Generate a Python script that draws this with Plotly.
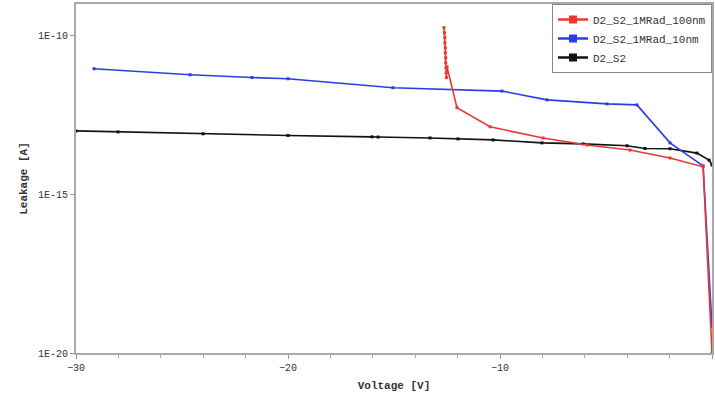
import plotly.graph_objects as go

# D2_S2 (black)
v_ref = [-30.0, -28.02, -24.01, -20.0, -16.04, -15.75, -13.3, -11.98, -10.33, -8.02, -6.08, -4.01, -3.16, -1.98, -0.71, -0.14, 0.0]
i_ref = [1.0e-13, 9.3e-14, 8.1e-14, 7.2e-14, 6.5e-14, 6.4e-14, 6.0e-14, 5.6e-14, 5.2e-14, 4.2e-14, 3.9e-14, 3.4e-14, 2.8e-14, 2.75e-14, 2.0e-14, 1.2e-14, 8.5e-15]

# D2_S2_1MRad_10nm (blue)
v_10 = [-29.15, -24.62, -21.7, -20.0, -15.05, -9.91, -7.78, -4.95, -3.54, -1.98, -0.42, 0.0]
i_10 = [9.1e-12, 5.9e-12, 4.8e-12, 4.4e-12, 2.3e-12, 1.8e-12, 9.5e-13, 7.1e-13, 6.6e-13, 4.2e-14, 7.9e-15, 7.0e-20]

# D2_S2_1MRad_100nm (red)
v_100 = [-12.64, -12.62, -12.6, -12.6, -12.58, -12.58, -12.56, -12.56, -12.55, -12.54, -12.53, -12.5, -12.03, -10.47, -7.97, -5.9, -3.87, -1.98, -0.42, 0.0]
i_100 = [1.8e-10, 1.23e-10, 8.7e-11, 6.0e-11, 4.2e-11, 2.9e-11, 2.0e-11, 1.4e-11, 9.8e-12, 6.8e-12, 4.8e-12, 1.05e-11, 5.4e-13, 1.35e-13, 6.0e-14, 3.6e-14, 2.5e-14, 1.4e-14, 7.4e-15, 1.0e-20]

series_names = ["D2_S2", "D2_S2_1MRad_10nm", "D2_S2_1MRad_100nm"]
series_colors = ["#111111", "#2b3ee6", "#e8392e"]

y_tickvals = [1e-20, 1e-15, 1e-10]
y_ticktext = ["1E-20", "1E-15", "1E-10"]
x_tickvals = [-30, -20, -10, 0]

mono = "Liberation Mono"

fig = go.Figure()
data = [(v_ref, i_ref), (v_10, i_10), (v_100, i_100)]
for (xs, ys), name, col in zip(data, series_names, series_colors):
    fig.add_trace(go.Scatter(x=xs, y=ys, name=name, mode="lines+markers",
                             line=dict(color=col, width=1.6),
                             marker=dict(symbol="square", size=3, color=col),
                             showlegend=False))
# legend entries (bigger square markers as in the reference legend)
for rank, (name, col) in enumerate(zip(series_names, series_colors)):
    fig.add_trace(go.Scatter(x=[None], y=[None], name=name, mode="lines+markers",
                             line=dict(color=col, width=2.5),
                             marker=dict(symbol="square", size=8, color=col),
                             legendrank=3 - rank, showlegend=True))

fig.update_layout(
    width=715, height=393,
    margin=dict(l=76, r=3, t=4, b=40, autoexpand=False),
    paper_bgcolor="white", plot_bgcolor="white",
    font=dict(family=mono, size=10, color="#333333"),
    showlegend=True,
    legend=dict(x=1, y=1, xanchor="right", yanchor="top",
                bgcolor="white", bordercolor="#888888", borderwidth=1,
                font=dict(family=mono, size=11, color="#333333"),
                tracegroupgap=0, itemwidth=30),
)
fig.update_xaxes(
    range=[-30, 0], tickvals=x_tickvals, ticks="outside", ticklen=4,
    tickcolor="#999999", showgrid=False, zeroline=False,
    showline=True, linecolor="#aaaaaa", linewidth=2, mirror=True,
    minor=dict(dtick=2, ticks="outside", ticklen=3, tickcolor="#aaaaaa", showgrid=False),
    title=dict(text="<b>Voltage [V]</b>", font=dict(family=mono, size=11, color="#333333"), standoff=8),
)
fig.update_yaxes(
    type="log", range=[-20, -9], tickvals=y_tickvals, ticktext=y_ticktext,
    ticks="outside", ticklen=4, tickcolor="#999999", showgrid=False, zeroline=False,
    showline=True, linecolor="#aaaaaa", linewidth=2, mirror=True,
    title=dict(text="<b>Leakage [A]</b>", font=dict(family=mono, size=11, color="#333333"), standoff=8),
)

fig.write_html("out.html", config={"displayModeBar": False},
               post_script="document.body.style.margin='0';document.body.style.padding='0';")
